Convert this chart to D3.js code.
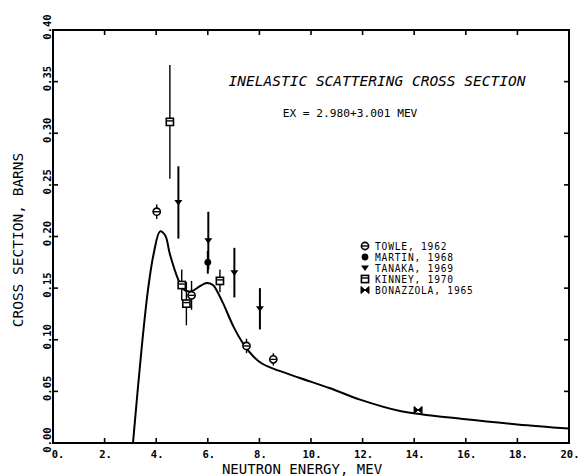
<!DOCTYPE html>
<html>
<head>
<meta charset="utf-8">
<script src="https://cdn.jsdelivr.net/npm/d3@7"></script>
<style>
  html, body { margin: 0; padding: 0; background: #fff; }
  svg { display: block; }
  text { font-family: "DejaVu Sans Mono", monospace; fill: #000; }
</style>
</head>
<body>
<svg id="chart" width="580" height="476"></svg>
<script>
// Calculated inelastic cross section (energy in MeV, cross section in barns)
const curveEnergy = [3.1, 3.44, 3.69, 3.9, 4.15, 4.35, 4.53, 4.86, 5.1, 5.37, 5.7, 5.96, 6.2, 6.34, 6.6, 6.99, 7.38, 7.76, 8.1, 8.54, 9.57, 10.74, 11.9, 13.45, 16.0, 18.0, 20.0];
const curveSigma  = [0.0, 0.093, 0.150, 0.183, 0.205, 0.201, 0.183, 0.158, 0.148, 0.147, 0.152, 0.155, 0.153, 0.148, 0.135, 0.113, 0.096, 0.084, 0.077, 0.072, 0.063, 0.053, 0.042, 0.031, 0.023, 0.018, 0.014];

// Measurements: [energy, cross section, error]
const towle     = [[4.02, 0.224, 0.007], [5.37, 0.143, 0.014], [7.5, 0.094, 0.007], [8.54, 0.081, 0.006]];
const martin    = [[6.0, 0.175, 0.011]];
const tanaka    = [[4.86, 0.233, 0.035], [6.02, 0.196, 0.028], [7.03, 0.165, 0.024], [8.02, 0.130, 0.020]];
const kinney    = [[4.53, 0.311, 0.055], [4.99, 0.153, 0.015], [5.17, 0.135, 0.021], [6.47, 0.157, 0.011]];
const bonazzola = [[14.15, 0.032, 0]];

const legendLabels = ["TOWLE, 1962", "MARTIN, 1968", "TANAKA, 1969", "KINNEY, 1970", "BONAZZOLA, 1965"];
const xTicks = [0, 2, 4, 6, 8, 10, 12, 14, 16, 18, 20];
const xTickLabels = ["0.", "2.", "4.", "6.", "8.", "10.", "12.", "14.", "16.", "18.", "20."];
const yTicks = [0, 0.05, 0.10, 0.15, 0.20, 0.25, 0.30, 0.35, 0.40];
const yTickLabels = ["0.00", "0.05", "0.10", "0.15", "0.20", "0.25", "0.30", "0.35", "0.40"];

const svg = d3.select("#chart");
const plotL = 53, plotR = 569, plotT = 30, plotB = 443;
const x = d3.scaleLinear().domain([0, 20]).range([plotL, plotR]);
const y = d3.scaleLinear().domain([0, 0.40]).range([plotB, plotT]);

// Frame and inward ticks on all four sides
const axisG = svg.append("g").attr("stroke", "#000").attr("fill", "none");
axisG.append("rect").attr("x", plotL).attr("y", plotT).attr("width", plotR - plotL).attr("height", plotB - plotT)
  .attr("stroke-width", 2);
const tl = 5;
xTicks.forEach(t => {
  axisG.append("line").attr("x1", x(t)).attr("x2", x(t)).attr("y1", plotB).attr("y2", plotB - tl).attr("stroke-width", 1.6);
  axisG.append("line").attr("x1", x(t)).attr("x2", x(t)).attr("y1", plotT).attr("y2", plotT + tl).attr("stroke-width", 1.6);
});
yTicks.forEach(t => {
  axisG.append("line").attr("x1", plotL).attr("x2", plotL + tl).attr("y1", y(t)).attr("y2", y(t)).attr("stroke-width", 1.6);
  axisG.append("line").attr("x1", plotR).attr("x2", plotR - tl).attr("y1", y(t)).attr("y2", y(t)).attr("stroke-width", 1.6);
});

// Tick labels
svg.append("g").selectAll("text").data(xTicks).join("text")
  .attr("x", (d, i) => x(d) + (i === 0 ? 5 : 1))
  .attr("y", 458)
  .attr("text-anchor", "middle")
  .attr("font-size", 10.5).attr("font-weight", "bold")
  .text((d, i) => xTickLabels[i]);

svg.append("g").selectAll("text").data(yTicks).join("text")
  .attr("transform", d => `translate(51,${y(d) - 3}) rotate(-90)`)
  .attr("text-anchor", "middle")
  .attr("font-size", 10.5).attr("font-weight", "bold")
  .text((d, i) => yTickLabels[i]);

// Axis titles
svg.append("text").attr("x", 302).attr("y", 474).attr("text-anchor", "middle")
  .attr("font-size", 14).text("NEUTRON ENERGY, MEV");
svg.append("text").attr("transform", "translate(23,240) rotate(-90)").attr("text-anchor", "middle")
  .attr("font-size", 14.5).text("CROSS SECTION, BARNS");

// Titles
svg.append("text").attr("x", 377).attr("y", 86).attr("text-anchor", "middle")
  .attr("font-size", 14.5).attr("font-style", "italic").text("INELASTIC SCATTERING CROSS SECTION");
svg.append("text").attr("x", 350).attr("y", 117).attr("text-anchor", "middle")
  .attr("font-size", 11.2).text("EX = 2.980+3.001 MEV");

// Calculated curve
const line = d3.line().x(d => x(d[0])).y(d => y(d[1])).curve(d3.curveCatmullRom.alpha(0.5));
svg.append("path")
  .datum(curveEnergy.map((e, i) => [e, curveSigma[i]]))
  .attr("d", line).attr("fill", "none").attr("stroke", "#000").attr("stroke-width", 2);

// Symbol drawers
function drawSymbol(g, type, cx, cy) {
  if (type === "towle") {
    g.append("circle").attr("cx", cx).attr("cy", cy).attr("r", 3.6).attr("fill", "#fff").attr("stroke", "#000").attr("stroke-width", 1.6);
    g.append("line").attr("x1", cx - 3).attr("x2", cx + 3).attr("y1", cy).attr("y2", cy).attr("stroke", "#000").attr("stroke-width", 1.4);
  } else if (type === "martin") {
    g.append("circle").attr("cx", cx).attr("cy", cy).attr("r", 3.4).attr("fill", "#000");
  } else if (type === "tanaka") {
    g.append("path").attr("d", `M${cx - 4},${cy - 2.5}L${cx + 4},${cy - 2.5}L${cx},${cy + 3}Z`).attr("fill", "#000");
  } else if (type === "kinney") {
    g.append("rect").attr("x", cx - 3.6).attr("y", cy - 3.6).attr("width", 7.2).attr("height", 7.2)
      .attr("fill", "#fff").attr("stroke", "#000").attr("stroke-width", 1.6);
    g.append("line").attr("x1", cx - 3).attr("x2", cx + 3).attr("y1", cy - 1).attr("y2", cy - 1).attr("stroke", "#000").attr("stroke-width", 1.4);
  } else if (type === "bonazzola") {
    g.append("path").attr("d", `M${cx - 4},${cy - 3.5}L${cx + 4},${cy + 3.5}L${cx + 4},${cy - 3.5}L${cx - 4},${cy + 3.5}Z`)
      .attr("fill", "#000").attr("stroke", "#000").attr("stroke-width", 1);
  }
}

const series = [
  ["towle", towle, 1.4], ["martin", martin, 2], ["tanaka", tanaka, 2],
  ["kinney", kinney, 1.4], ["bonazzola", bonazzola, 1.4]
];
const ptsG = svg.append("g");
series.forEach(([type, data, w]) => {
  data.forEach(([e, s, err]) => {
    if (err > 0) {
      ptsG.append("line").attr("x1", x(e)).attr("x2", x(e)).attr("y1", y(s - err)).attr("y2", y(s + err))
        .attr("stroke", "#000").attr("stroke-width", w);
    }
  });
});
series.forEach(([type, data]) => {
  data.forEach(([e, s]) => drawSymbol(ptsG, type, x(e), y(s)));
});

// Legend
const legG = svg.append("g");
const types = ["towle", "martin", "tanaka", "kinney", "bonazzola"];
legendLabels.forEach((lab, i) => {
  const ly = 246 + i * 11;
  drawSymbol(legG, types[i], 365, ly);
  legG.append("text").attr("x", 375).attr("y", ly + 3.6)
    .attr("font-size", 9.6).attr("letter-spacing", 0.8).text(lab);
});
</script>
</body>
</html>
